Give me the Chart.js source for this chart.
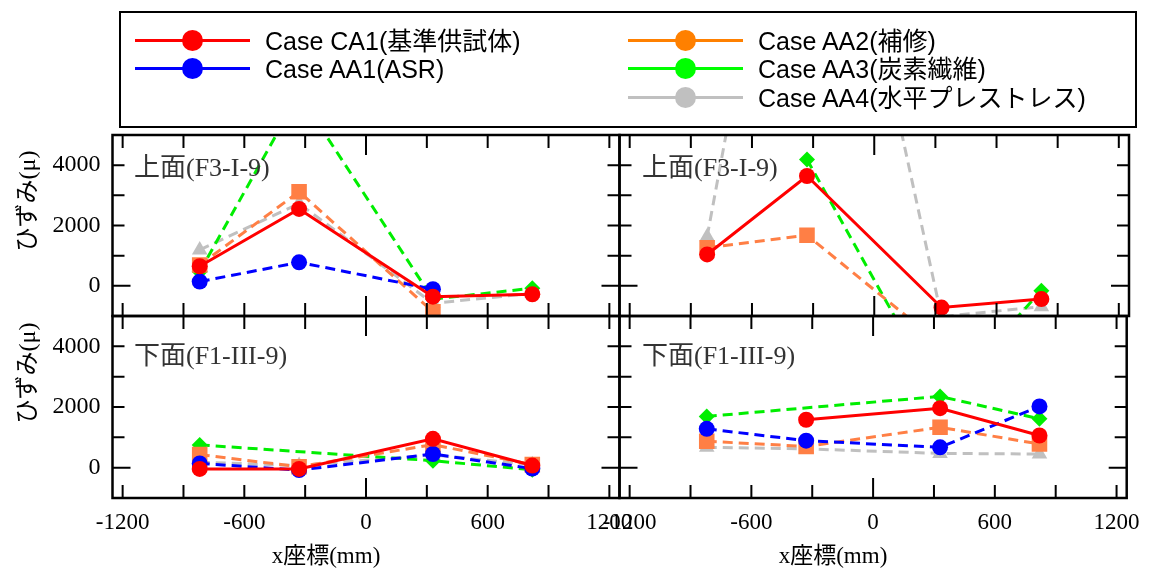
<!DOCTYPE html>
<html>
<head>
<meta charset="utf-8">
<script src="https://cdn.jsdelivr.net/npm/chart.js@4/dist/chart.umd.min.js"></script>
<style>
body { margin: 0; background: #fff; width: 1151px; height: 572px; overflow: hidden; position: relative; }
canvas { position: absolute; left: 0; top: 0; }
#legendBox { position: absolute; left: 119px; top: 11px; width: 1018px; height: 117px; box-sizing: border-box; border: 2px solid #000; }
.lg { position: absolute; height: 28px; font: 25px "Liberation Sans", "Noto Sans CJK JP", sans-serif; color: #000; white-space: nowrap; line-height: 28px; }
.lg .ln { position: absolute; left: 0; top: 12px; width: 115px; height: 3px; }
.lg .dot { position: absolute; left: 47px; top: 3px; width: 21px; height: 21px; border-radius: 50%; }
.lg .tx { position: absolute; left: 130px; top: 0; }
.lab { position: absolute; font: 26px "Liberation Serif", "Noto Sans CJK JP", serif; color: #333; white-space: nowrap; }
.ttl { position: absolute; font: 23px "Liberation Serif", "Noto Sans CJK JP", serif; color: #000; white-space: nowrap; transform: translate(-50%, -50%); }
.ttl.v { font-size: 24px; transform: translate(-50%, -50%) rotate(-90deg); }
</style>
</head>
<body>
<div id="legendBox"></div>
<canvas id="tl" width="1151" height="572"></canvas>
<canvas id="tr" width="1151" height="572"></canvas>
<canvas id="bl" width="1151" height="572"></canvas>
<canvas id="br" width="1151" height="572"></canvas>
<div class="lab" style="left:134px;top:146px">上面(F3-I-9)</div>
<div class="lab" style="left:642px;top:146px">上面(F3-I-9)</div>
<div class="lab" style="left:134px;top:334px">下面(F1-III-9)</div>
<div class="lab" style="left:642px;top:334px">下面(F1-III-9)</div>
<div class="ttl v" style="left:24px;top:201px">ひずみ(μ)</div>
<div class="ttl v" style="left:24px;top:373px">ひずみ(μ)</div>
<div class="ttl" style="left:326px;top:553px">x座標(mm)</div>
<div class="ttl" style="left:833px;top:553px">x座標(mm)</div>
<script>
// 測定位置と目盛
const xPos = [-820, -330, 330, 820];
const xTickLabels = [-1200, -600, 0, 600, 1200];
const xMinorTicks = [-1200, -900, -600, -300, 0, 300, 600, 900, 1200];
const yTickLabels = [0, 2000, 4000];
const yMinorTicks = [0, 1000, 2000, 3000, 4000];

const caseNames = ["Case CA1(基準供試体)", "Case AA1(ASR)", "Case AA2(補修)", "Case AA3(炭素繊維)", "Case AA4(水平プレストレス)"];

// 上面(F3-I-9) 左
const tlCA1 = [650, 2550, -360, -280];
const tlAA1 = [140, 780, -110, null];
const tlAA2 = [690, 3120, -860, null];
const tlAA3 = [470, 6350, -440, -80];
const tlAA4 = [1190, 2730, -580, -250];
// 上面(F3-I-9) 右
const trCA1 = [1040, 3640, -720, -440];
const trAA1 = [null, null, null, null];
const trAA2 = [1260, 1680, -1950, -1600];
const trAA3 = [null, 4190, -3800, -160];
const trAA4 = [1630, 19500, -1020, -690];
// 下面(F1-III-9) 左
const blCA1 = [-40, -40, 950, 70];
const blAA1 = [140, -80, 450, -30];
const blAA2 = [430, 30, 760, 100];
const blAA3 = [750, null, 230, -70];
const blAA4 = [180, 70, 420, 100];
// 下面(F1-III-9) 右
const brCA1 = [null, 1580, 1960, 1060];
const brAA1 = [1280, 890, 670, 2020];
const brAA2 = [870, 700, 1330, 780];
const brAA3 = [1690, null, 2350, 1610];
const brAA4 = [670, 620, 470, 450];

const lineColors = ["#ff0000", "#0000ff", "#ff7f45", "#00ee00", "#c0c0c0"];
const legendColors = ["#ff0000", "#0000ff", "#ff8000", "#00ff00", "#c0c0c0"];
const markers = ["circle", "circle", "rect", "rectRot", "triangle"];
const markerSizes = [8, 8, 11, 8, 9];

// 凡例
const legendSpots = [[135, 27], [135, 55], [628, 27], [628, 55], [628, 84]];
caseNames.forEach((name, i) => {
    const el = document.createElement("div");
    el.className = "lg";
    el.style.left = legendSpots[i][0] + "px";
    el.style.top = legendSpots[i][1] + "px";
    el.innerHTML = `<span class="ln" style="background:${legendColors[i]}"></span>` +
        `<span class="dot" style="background:${legendColors[i]}"></span><span class="tx">${name}</span>`;
    document.body.appendChild(el);
});

const frameTicks = {
    id: "frameTicks",
    afterDatasetsDraw(chart) {
        const { ctx, chartArea: a, scales: { x, y } } = chart;
        ctx.save();
        ctx.strokeStyle = "#000";
        ctx.lineWidth = 2;
        ctx.beginPath();
        xMinorTicks.forEach(v => {
            const px = x.getPixelForValue(v);
            const len = v === 0 ? 20 : 13;
            ctx.moveTo(px, a.bottom); ctx.lineTo(px, a.bottom - len);
            ctx.moveTo(px, a.top); ctx.lineTo(px, a.top + len);
        });
        yMinorTicks.forEach(v => {
            const py = y.getPixelForValue(v);
            const len = v === 0 ? 18 : 12;
            ctx.moveTo(a.left, py); ctx.lineTo(a.left + len, py);
            ctx.moveTo(a.right, py); ctx.lineTo(a.right - len, py);
        });
        ctx.stroke();
        ctx.lineWidth = 2.5;
        ctx.strokeRect(a.left, a.top, a.right - a.left, a.bottom - a.top);
        ctx.restore();
    }
};

function makeChart(id, series, pad, showX, showY) {
    return new Chart(document.getElementById(id), {
        type: "line",
        data: {
            datasets: series.map((vals, i) => ({
                label: caseNames[i],
                data: vals.map((v, j) => ({ x: xPos[j], y: v })),
                borderColor: lineColors[i],
                backgroundColor: lineColors[i],
                borderWidth: 3,
                borderDash: i === 0 ? [] : [10, 6],
                pointStyle: markers[i],
                pointRadius: markerSizes[i],
                pointBorderWidth: 0,
                spanGaps: true,
                tension: 0
            }))
        },
        options: {
            responsive: false,
            animation: false,
            devicePixelRatio: 1,
            layout: { padding: pad },
            plugins: { legend: { display: false }, tooltip: { enabled: false } },
            scales: {
                x: {
                    type: "linear", min: -1250, max: 1250,
                    grid: { display: false, drawTicks: false }, border: { display: false },
                    afterBuildTicks: s => { s.ticks = xTickLabels.map(v => ({ value: v })); },
                    afterFit: s => { s.height = showX ? 40 : 0; },
                    ticks: { display: showX, padding: 11, color: "#000", maxRotation: 0, autoSkip: false,
                        callback: v => String(v),
                        font: { family: "Liberation Serif", size: 23 } }
                },
                y: {
                    min: -1000, max: 5000,
                    grid: { display: false, drawTicks: false }, border: { display: false },
                    afterBuildTicks: s => { s.ticks = yTickLabels.map(v => ({ value: v })); },
                    afterFit: s => { s.width = showY ? 112.5 : 0; },
                    ticks: { display: showY, padding: 12, color: "#000",
                        callback: v => String(v),
                        font: { family: "Liberation Serif", size: 24 } }
                }
            }
        },
        plugins: [frameTicks]
    });
}

makeChart("tl", [tlCA1, tlAA1, tlAA2, tlAA3, tlAA4], { left: 0, top: 135, right: 531.5, bottom: 256 }, false, true);
makeChart("tr", [trCA1, trAA1, trAA2, trAA3, trAA4], { left: 619.5, top: 135, right: 22, bottom: 256 }, false, false);
makeChart("bl", [blCA1, blAA1, blAA2, blAA3, blAA4], { left: 0, top: 316, right: 531.5, bottom: 34 }, true, true);
makeChart("br", [brCA1, brAA1, brAA2, brAA3, brAA4], { left: 619.5, top: 316, right: 22, bottom: 34 }, true, false);
</script>
</body>
</html>
